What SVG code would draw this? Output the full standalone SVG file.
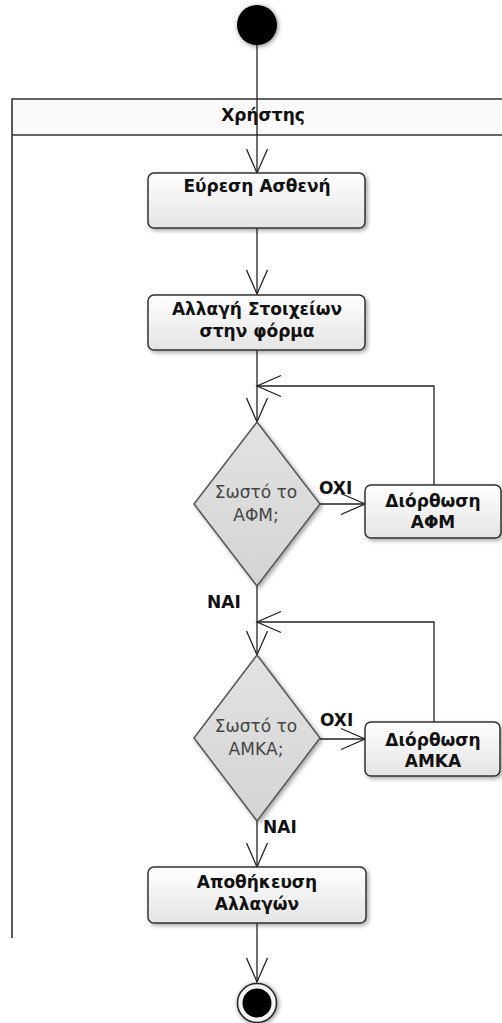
<svg xmlns="http://www.w3.org/2000/svg" width="502" height="1023" viewBox="0 0 502 1023">
<defs>
<linearGradient id="boxGrad" x1="0" y1="0" x2="0" y2="1">
<stop offset="0" stop-color="#ffffff"/>
<stop offset="1" stop-color="#e4e4e4"/>
</linearGradient>
<linearGradient id="diaGrad" x1="0" y1="0" x2="0" y2="1">
<stop offset="0" stop-color="#e2e2e2"/>
<stop offset="1" stop-color="#d4d4d4"/>
</linearGradient>
<filter id="shadow" x="-20%" y="-20%" width="140%" height="150%">
<feDropShadow dx="2" dy="2" stdDeviation="2" flood-color="#000" flood-opacity="0.35"/>
</filter>
<filter id="glow" x="-50%" y="-50%" width="200%" height="200%">
<feDropShadow dx="1" dy="1" stdDeviation="2.5" flood-color="#000" flood-opacity="0.5"/>
</filter>
<marker id="arrow" markerUnits="userSpaceOnUse" viewBox="-27 -13 30 26" refX="0" refY="0" markerWidth="30" markerHeight="26" orient="auto">
<path d="M-24,-10.5 L0,0 L-24,10.5" fill="none" stroke="#222" stroke-width="1.3"/>
</marker>
</defs>
<style>
.box{fill:url(#boxGrad);stroke:#333;stroke-width:1.5;filter:url(#shadow)}
.dia{fill:url(#diaGrad);stroke:#555;stroke-width:1.5;filter:url(#shadow)}
.lbl{font-family:"DejaVu Sans",Verdana,sans-serif;font-size:17px;font-weight:bold;fill:#111;text-anchor:middle}
.dtxt{font-family:"DejaVu Sans",Verdana,sans-serif;font-size:17px;fill:#444;text-anchor:middle}
.guard{font-family:"DejaVu Sans",Verdana,sans-serif;font-size:17px;font-weight:bold;fill:#111}
.edge{fill:none;stroke:#222;stroke-width:1.3}
.lane{fill:none;stroke:#333;stroke-width:1.6}
</style>
<rect width="502" height="1023" fill="#ffffff"/>
<g id="lane">
<rect x="12" y="99" width="500" height="36" fill="#fafafa"/>
<path class="lane" d="M12,938 L12,99 L512,99 M12,135 L512,135"/>
<text class="lbl" x="263" y="121">Χρήστης</text>
</g>
<g id="connectors">
<path class="edge" d="M257,45 L257,173" marker-end="url(#arrow)"/>
<path class="edge" d="M257,228 L257,294" marker-end="url(#arrow)"/>
<path class="edge" d="M257,350 L257,422" marker-end="url(#arrow)"/>
<path class="edge" d="M320,504 L365,504" marker-end="url(#arrow)"/>
<path class="edge" d="M434,485 L434,386 L257,386" marker-end="url(#arrow)"/>
<path class="edge" d="M257,586 L257,655" marker-end="url(#arrow)"/>
<path class="edge" d="M320,739 L365,739" marker-end="url(#arrow)"/>
<path class="edge" d="M434,722 L434,622 L257,622" marker-end="url(#arrow)"/>
<path class="edge" d="M257,821 L257,867" marker-end="url(#arrow)"/>
<path class="edge" d="M257,923 L257,982" marker-end="url(#arrow)"/>
<text class="guard" x="319" y="494">OXI</text>
<text class="guard" x="207" y="608">NAI</text>
<text class="guard" x="320" y="726">OXI</text>
<text class="guard" x="263" y="833">NAI</text>
</g>
<g id="start">
<circle cx="257" cy="25" r="20" fill="#000" filter="url(#glow)"/>
</g>
<g id="find_patient">
<rect class="box" x="148" y="173" width="217" height="55" rx="6"/>
<text class="lbl" x="257" y="192">Εύρεση Ασθενή</text>
</g>
<g id="edit_form">
<rect class="box" x="148" y="295" width="217" height="55" rx="6"/>
<text class="lbl" x="257" y="315">Αλλαγή Στοιχείων</text>
<text class="lbl" x="257" y="337">στην φόρμα</text>
</g>
<g id="check_afm">
<polygon class="dia" points="257,422 320,504 257,586 194,504"/>
<text class="dtxt" x="256" y="498">Σωστό το</text>
<text class="dtxt" x="256" y="521">ΑΦΜ;</text>
</g>
<g id="fix_afm">
<rect class="box" x="365" y="485" width="136" height="53" rx="6"/>
<text class="lbl" x="433" y="507">Διόρθωση</text>
<text class="lbl" x="433" y="528">ΑΦΜ</text>
</g>
<g id="check_amka">
<polygon class="dia" points="257,655 320,738 257,821 194,738"/>
<text class="dtxt" x="256" y="732">Σωστό το</text>
<text class="dtxt" x="256" y="755">ΑΜΚΑ;</text>
</g>
<g id="fix_amka">
<rect class="box" x="365" y="722" width="135" height="54" rx="6"/>
<text class="lbl" x="433" y="746">Διόρθωση</text>
<text class="lbl" x="433" y="767">ΑΜΚΑ</text>
</g>
<g id="save">
<rect class="box" x="148" y="867" width="218" height="56" rx="6"/>
<text class="lbl" x="257" y="888">Αποθήκευση</text>
<text class="lbl" x="257" y="910">Αλλαγών</text>
</g>
<g id="end">
<circle cx="257" cy="1003" r="19.5" fill="#f4f4f4" stroke="#222" stroke-width="1.5" filter="url(#glow)"/>
<circle cx="257" cy="1003" r="14.5" fill="#000"/>
</g>
</svg>
